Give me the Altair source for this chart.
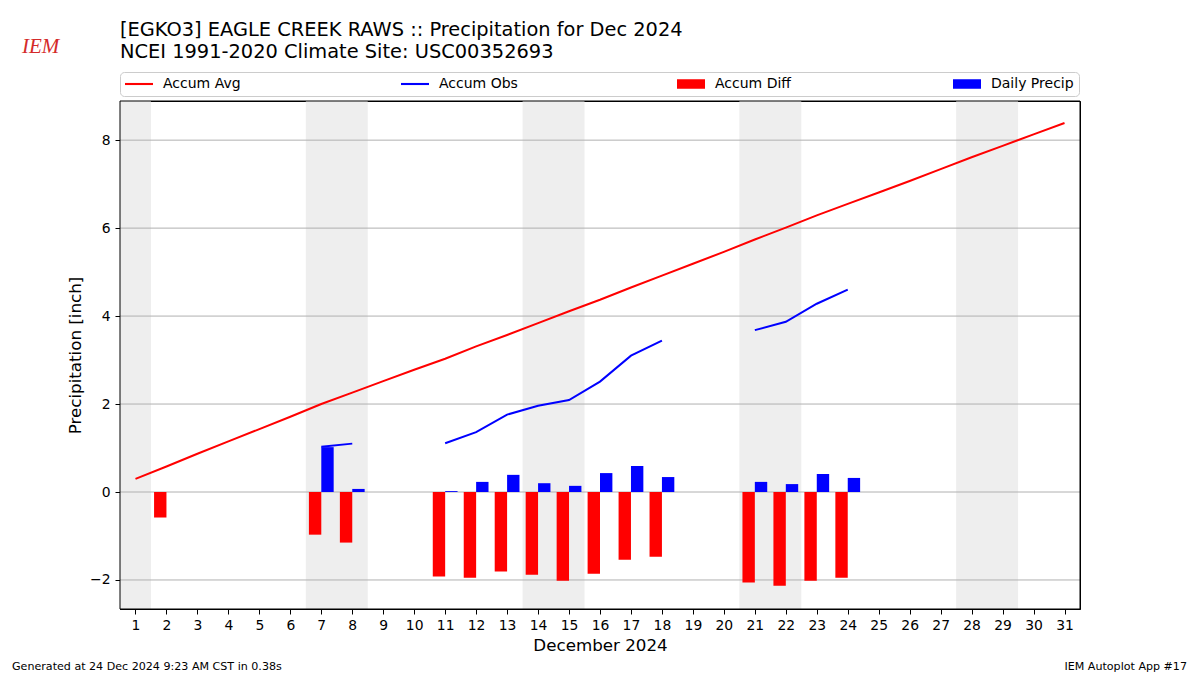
import altair as alt
import pandas as pd

# ---------------- data ----------------
days = list(range(1, 32))
accum_avg = [0.30, 0.58, 0.87, 1.15, 1.43, 1.71, 2.00, 2.26, 2.52, 2.78, 3.03,
             3.31, 3.57, 3.84, 4.11, 4.37, 4.65, 4.92, 5.19, 5.46, 5.74, 6.01,
             6.29, 6.55, 6.81, 7.07, 7.34, 7.61, 7.87, 8.13, 8.39]
obs_days = [7, 8, 11, 12, 13, 14, 15, 16, 17, 18, 21, 22, 23, 24]
accum_obs = [1.03, 1.10, 1.11, 1.36, 1.76, 1.96, 2.09, 2.51, 3.10, 3.44,
             3.68, 3.87, 4.28, 4.60]
daily_precip = [1.02, 0.07, 0.02, 0.23, 0.39, 0.20, 0.14, 0.43, 0.59, 0.34,
                0.23, 0.18, 0.41, 0.32]
diff_days = [2, 7, 8, 11, 12, 13, 14, 15, 16, 17, 18, 21, 22, 23, 24]
accum_diff = [-0.58, -0.97, -1.15, -1.92, -1.95, -1.81, -1.88, -2.02, -1.86,
              -1.54, -1.47, -2.06, -2.13, -2.02, -1.95]
weekend_start = [0.5, 6.5, 13.5, 20.5, 27.5]
weekend_end = [1.5, 8.5, 15.5, 22.5, 29.5]
y_ticks = [-2, 0, 2, 4, 6, 8]
series_names = ["Accum Avg", "Accum Obs", "Accum Diff", "Daily Precip"]
title_line1 = "[EGKO3] EAGLE CREEK RAWS :: Precipitation for Dec 2024"
title_line2 = "NCEI 1991-2020 Climate Site: USC00352693"
footer_left = "Generated at 24 Dec 2024 9:23 AM CST in 0.38s"
footer_right = "IEM Autoplot App #17"
logo_text = "IEM"

# break the observed line where days are missing
seg, s = [], 0
for i, d in enumerate(obs_days):
    if i > 0 and d - obs_days[i - 1] > 1:
        s += 1
    seg.append(s)

avg_df = pd.DataFrame({"day": days, "value": accum_avg})
obs_df = pd.DataFrame({"day": obs_days, "value": accum_obs, "seg": seg})
daily_df = pd.DataFrame({"day": obs_days, "value": daily_precip})
diff_df = pd.DataFrame({"day": diff_days, "value": accum_diff})
wk_df = pd.DataFrame({"start": weekend_start, "end": weekend_end})
grid_df = pd.DataFrame({"y": y_ticks})
leg_df = pd.DataFrame({"series": series_names})
txt_df = pd.DataFrame({"t1": [title_line1], "t2": [title_line2],
                       "left": [footer_left], "right": [footer_right],
                       "logo": [logo_text]})

# ---------------- styles ----------------
RED, BLUE = "#ff0000", "#0000ff"
FONT = "DejaVu Sans"
W, H = 960, 508
BAR_W = 0.4

xscale = alt.Scale(domain=[0.5, 31.5], nice=False, zero=False)
yscale = alt.Scale(domain=[-2.66, 8.89], nice=False, zero=False)
x_axis = alt.Axis(values=days, title="December 2024", grid=False, format="d",
                  labelFlush=False, labelOverlap=False, labelPadding=4,
                  titlePadding=6)
y_axis = alt.Axis(values=y_ticks, title="Precipitation [inch]", grid=False,
                  format="d", labelPadding=5, titlePadding=5)


def X(field):
    return alt.X(field, type="quantitative", scale=xscale, axis=x_axis)


def Y(field):
    return alt.Y(field, type="quantitative", scale=yscale, axis=y_axis)


bands = alt.Chart(wk_df).mark_rect(color="#eeeeee").encode(
    x=X("start"), x2="end")

grid = alt.Chart(grid_df).mark_rule(color="#b0b0b0", strokeWidth=1).encode(
    y=Y("y"))

avg_line = alt.Chart(avg_df).mark_line(color=RED, strokeWidth=2).encode(
    x=X("day"), y=Y("value"))

obs_line = alt.Chart(obs_df).mark_line(color=BLUE, strokeWidth=2).encode(
    x=X("day"), y=Y("value"), detail="seg:N")

diff_bars = alt.Chart(diff_df).transform_calculate(
    x0=f"datum.day - {BAR_W}"
).mark_rect(color=RED).encode(
    x=X("x0"), x2="day", y=Y("value"), y2=alt.datum(0))

daily_bars = alt.Chart(daily_df).transform_calculate(
    x1=f"datum.day + {BAR_W}"
).mark_rect(color=BLUE).encode(
    x=X("day"), x2="x1", y=Y("value"), y2=alt.datum(0))

# legend symbols: path units scaled by sqrt(size)/2 = 7 px
line_path = "M-1,-0.15H3V0.15H-1Z"
rect_path = "M-1,-0.68H3V0.68H-1Z"
legend = alt.Legend(
    title=None, orient="top", direction="horizontal", columns=4,
    gridAlign="all", columnPadding=155, padding=5, offset=5,
    strokeColor="#cccccc", cornerRadius=4, fillColor="white",
    labelFont=FONT, labelFontSize=14, labelColor="black", labelOffset=24,
    symbolSize=196, symbolOpacity=1, symbolStrokeWidth=0,
)
legend_layer = alt.Chart(leg_df).mark_point(filled=True, opacity=0).encode(
    x=alt.value(0), y=alt.value(0),
    color=alt.Color("series:N", scale=alt.Scale(domain=series_names,
                    range=[RED, BLUE, RED, BLUE]), legend=legend),
    shape=alt.Shape("series:N", scale=alt.Scale(domain=series_names,
                    range=[line_path, line_path, rect_path, rect_path]),
                    legend=legend),
)

frame = alt.Chart(txt_df).mark_rect(
    filled=False, stroke="black", strokeWidth=1
).encode(strokeOpacity=alt.value(1))


def text_layer(field, x, y, size, align="left", **kw):
    return alt.Chart(txt_df).mark_text(
        align=align, baseline="alphabetic", font=kw.pop("font", FONT),
        fontSize=size, color=kw.pop("color", "black"), **kw
    ).encode(text=f"{field}:N", x=alt.value(x), y=alt.value(y))


title1 = text_layer("t1", 0, -65, 19.4)
title2 = text_layer("t2", 0, -43, 19.4)
foot_l = text_layer("left", -108, 569, 11.1)
foot_r = text_layer("right", 1067, 569, 11.1, align="right")
logo = text_layer("logo", -98, -48, 21, font="Liberation Serif",
                  fontStyle="italic", color="#d42a2a")

chart = alt.layer(
    bands, grid, avg_line, obs_line, diff_bars, daily_bars, legend_layer,
    frame, title1, title2, foot_l, foot_r, logo
).properties(
    width=W, height=H,
    padding={"left": 4, "top": 12, "right": 0, "bottom": 0},
).configure_view(
    stroke="black", strokeWidth=1
).configure_axis(
    labelFont=FONT, titleFont=FONT, labelFontSize=13.9, titleFontSize=16.7,
    titleFontWeight="normal", labelColor="black", titleColor="black",
    tickColor="black", domainColor="black", tickSize=5,
)

chart.save("out.html", embed_options={"renderer": "svg", "actions": False})
